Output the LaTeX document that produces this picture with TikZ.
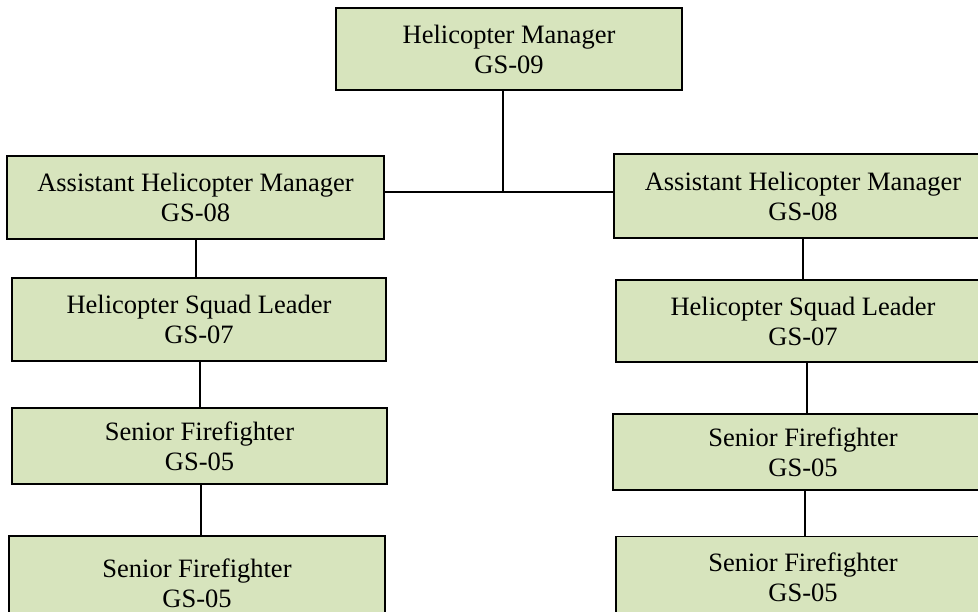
\documentclass[tikz,border=0pt]{standalone}
\usepackage{fontspec}
\setmainfont{Liberation Serif}
\definecolor{boxgreen}{HTML}{D7E4BD}
\begin{document}
\begin{tikzpicture}[x=1pt,y=-1pt,
  orgbox/.style={draw=black, fill=boxgreen, line width=1.6pt, align=center,
    inner sep=0pt, font=\fontsize{26.5}{30}\selectfont},
  link/.style={draw=black, line width=2.3pt}]
\useasboundingbox (0,0) rectangle (978,612);
\clip (0,0) rectangle (978,612);
% top
\node[orgbox, minimum width=346pt, minimum height=82pt] (top) at (509,49) {Helicopter Manager\\GS-09};
% left column
\node[orgbox, minimum width=377pt, minimum height=83pt] (L1) at (195.5,197.5) {Assistant Helicopter Manager\\GS-08};
\node[orgbox, minimum width=374pt, minimum height=83pt] (L2) at (199,319.5) {Helicopter Squad Leader\\GS-07};
\node[orgbox, minimum width=375pt, minimum height=76pt] (L3) at (199.5,446) {Senior Firefighter\\GS-05};
\node[orgbox, minimum width=376pt, minimum height=94pt] (L4) at (197,583) {Senior Firefighter\\GS-05};
% right column
\node[orgbox, minimum width=378pt, minimum height=84pt] (R1) at (803,196) {Assistant Helicopter Manager\\GS-08};
\node[orgbox, minimum width=374pt, minimum height=82pt] (R2) at (803,321) {Helicopter Squad Leader\\GS-07};
\node[orgbox, minimum width=380pt, minimum height=76pt] (R3) at (803,452) {Senior Firefighter\\GS-05};
\node[orgbox, minimum width=374pt, minimum height=81pt] (R4) at (803,577) {Senior Firefighter\\GS-05};
% connectors
\coordinate (J) at (503,192);
\draw[link] (top.south -| J) -- (J);
\draw[link] (L1.east |- J) -- (R1.west |- J);
\draw[link] ([xshift=0.5pt]L1.south) coordinate (a1) -- (a1 |- L2.north);
\draw[link] ([xshift=1pt]L2.south) coordinate (a2) -- (a2 |- L3.north);
\draw[link] ([xshift=1.5pt]L3.south) coordinate (a3) -- (a3 |- L4.north);
\draw[link] (R1.south) -- (R2.north);
\draw[link] ([xshift=4pt]R2.south) coordinate (b2) -- (b2 |- R3.north);
\draw[link] ([xshift=2pt]R3.south) coordinate (b3) -- (b3 |- R4.north);
\end{tikzpicture}
\end{document}
